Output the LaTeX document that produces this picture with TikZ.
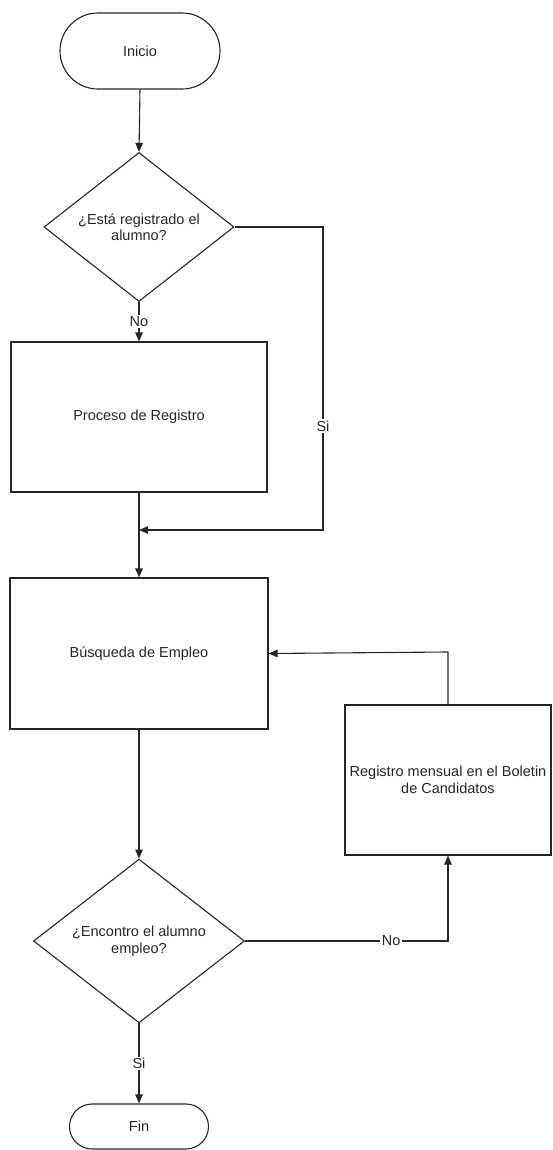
\documentclass[tikz,border=0pt]{standalone}
\usepackage{fontspec}
\setmainfont{Liberation Sans}
\usetikzlibrary{shapes.geometric,shapes.misc,arrows.meta}
\begin{document}
\begin{tikzpicture}[x=1pt,y=-1pt,
  every node/.style={font=\fontsize{14.5}{16.5}\selectfont, text=black!85},
  line/.style={draw=black!85, line width=1.1pt},
  arrow/.style={line, -{Triangle[length=9pt,width=7.5pt]}},
  term/.style={rounded rectangle, line, inner sep=0pt},
  decision/.style={diamond, line, inner sep=0pt, align=center},
  procbox/.style={rectangle, line, inner sep=0pt, align=center},
  lab/.style={fill=white, inner sep=1.5pt}
]
\useasboundingbox (0,0) rectangle (552,1150);
\node[term, minimum width=160pt, minimum height=76pt] (inicio) at (140,51) {Inicio};
\node[decision, minimum width=190pt, minimum height=99pt] (d1) at (139,227) {¿Está registrado el\\alumno?};
\node[procbox, minimum width=256pt, minimum height=150pt] (b1) at (139,417) {Proceso de Registro};
\node[procbox, minimum width=258pt, minimum height=151pt] (b2) at (139,653.5) {Búsqueda de Empleo};
\node[procbox, minimum width=206pt, minimum height=150pt] (b3) at (448,780) {Registro mensual en el Boletin\\de Candidatos};
\node[decision, minimum width=211pt, minimum height=127pt] (d2) at (139,941) {¿Encontro el alumno\\empleo?};
\node[term, minimum width=139pt, minimum height=45pt] (fin) at (139,1126.5) {Fin};

\coordinate (c1) at (323,227);
\coordinate (c2) at (323,530);
\coordinate (m) at (139,530);
\coordinate (c3) at (448,941);
\coordinate (c4) at (448,652);

\draw[arrow] (inicio.south) -- (d1.north);
\draw[arrow] (d1.south) -- node[lab] {No} (b1.north);
\draw[arrow] (d1.east) -- (c1) -- node[lab, pos=0.657] {Si} (c2) -- (m);
\draw[arrow] (b1.south) -- (b2.north);
\draw[arrow] (b2.south) -- (d2.north);
\draw[arrow] (d2.east) -- node[lab, pos=0.72] {No} (c3) -- (b3.south);
\draw[arrow] (b3.north) -- (c4) -- (b2.east);
\draw[arrow] (d2.south) -- node[lab] {Si} (fin.north);
\end{tikzpicture}
\end{document}
